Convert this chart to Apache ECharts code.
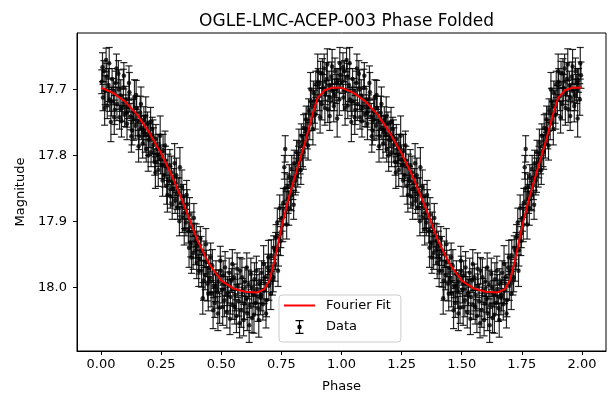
<!DOCTYPE html>
<html><head><meta charset="utf-8">
<script src="https://cdn.jsdelivr.net/npm/echarts@6/dist/echarts.min.js"></script>
<style>html,body{margin:0;padding:0;background:#fff}#c{width:616px;height:394px}</style>
</head><body><div id="c"></div>
<script>
// Observations, one pulsation cycle (plotted at phase and phase + 1)
const phase = [
0.003,0.008,0.012,0.017,0.021,0.026,0.031,0.036,0.041,0.046,
0.052,0.057,0.061,0.066,0.072,0.077,0.082,0.088,0.093,0.098,
0.103,0.108,0.113,0.118,0.124,0.129,0.134,0.139,0.144,0.148,
0.153,0.158,0.163,0.168,0.173,0.178,0.183,0.188,0.193,0.198,
0.203,0.208,0.213,0.218,0.223,0.228,0.233,0.238,0.243,0.248,
0.253,0.258,0.263,0.268,0.273,0.278,0.283,0.288,0.293,0.298,
0.303,0.308,0.313,0.318,0.323,0.328,0.333,0.338,0.343,0.348,
0.353,0.358,0.363,0.368,0.373,0.378,0.383,0.388,0.393,0.398,
0.403,0.408,0.413,0.418,0.423,0.428,0.433,0.438,0.443,0.448,
0.453,0.458,0.463,0.468,0.473,0.478,0.483,0.488,0.493,0.498,
0.503,0.508,0.513,0.518,0.523,0.528,0.533,0.538,0.543,0.548,
0.553,0.558,0.563,0.568,0.573,0.578,0.583,0.588,0.593,0.598,
0.603,0.608,0.613,0.618,0.623,0.628,0.633,0.638,0.643,0.648,
0.653,0.658,0.663,0.668,0.673,0.678,0.683,0.688,0.693,0.698,
0.703,0.708,0.713,0.718,0.723,0.728,0.733,0.738,0.743,0.748,
0.753,0.758,0.762,0.766,0.770,0.774,0.778,0.783,0.788,0.793,0.798,
0.803,0.808,0.813,0.818,0.823,0.828,0.833,0.838,0.843,0.848,
0.853,0.858,0.863,0.868,0.873,0.878,0.883,0.888,0.893,0.898,
0.903,0.908,0.913,0.918,0.923,0.928,0.933,0.938,0.943,0.948,
0.953,0.958,0.963,0.968,0.973,0.978,0.982,0.986,0.991,0.996,
0.006,0.015,0.024,0.034,0.044,0.055,0.064,0.075,0.085,0.095,
0.106,0.116,0.126,0.136,0.146,0.156,0.166,0.176,0.186,0.196,
0.206,0.216,0.226,0.236,0.246,0.256,0.266,0.276,0.286,0.296,
0.306,0.316,0.326,0.336,0.346,0.356,0.366,0.376,0.386,0.396,
0.406,0.416,0.426,0.436,0.446,0.456,0.466,0.476,0.486,0.496,
0.506,0.516,0.526,0.536,0.546,0.556,0.566,0.576,0.586,0.596,
0.606,0.616,0.626,0.636,0.646,0.656,0.666,0.676,0.686,0.696,
0.706,0.716,0.726,0.736,0.746,0.756,0.764,0.772,0.781,0.791,
0.801,0.811,0.821,0.831,0.841,0.851,0.861,0.871,0.881,0.891,
0.901,0.911,0.921,0.931,0.941,0.951,0.961,0.971,0.981,0.993
];
const mag = [
17.688,17.712,17.672,17.701,17.655,17.724,17.693,17.715,17.749,17.684,
17.703,17.731,17.690,17.722,17.676,17.742,17.709,17.728,17.697,17.738,
17.715,17.752,17.726,17.704,17.741,17.762,17.733,17.711,17.755,17.728,
17.748,17.771,17.735,17.758,17.782,17.746,17.767,17.790,17.752,17.776,
17.768,17.795,17.760,17.784,17.810,17.775,17.799,17.822,17.788,17.806,
17.815,17.792,17.830,17.808,17.846,17.818,17.839,17.862,17.826,17.851,
17.842,17.868,17.830,17.879,17.856,17.818,17.872,17.895,17.862,17.887,
17.902,17.874,17.915,17.890,17.934,17.908,17.948,17.921,17.944,17.963,
17.935,17.958,17.926,17.975,18.017,17.950,17.982,17.962,17.995,17.971,
17.986,18.010,17.968,17.998,18.024,17.980,18.006,17.992,18.031,17.975,
18.004,17.982,18.020,17.995,18.038,18.008,17.978,18.015,17.990,18.027,
17.985,18.012,18.044,17.998,18.022,17.975,18.035,18.005,18.050,17.992,
18.018,18.040,17.996,18.028,17.980,18.047,18.010,17.988,18.024,18.003,
18.032,17.994,18.016,17.978,18.026,18.005,17.985,18.020,17.970,17.998,
17.975,17.952,17.990,17.940,17.965,17.925,17.902,17.944,17.880,17.918,
17.895,17.872,17.818,17.790,17.880,17.848,17.866,17.832,17.858,17.820,17.845,
17.812,17.838,17.795,17.822,17.780,17.806,17.770,17.793,17.758,17.782,
17.745,17.768,17.732,17.752,17.718,17.740,17.705,17.726,17.692,17.716,
17.688,17.710,17.675,17.722,17.697,17.668,17.705,17.684,17.730,17.694,
17.712,17.680,17.702,17.725,17.672,17.699,17.744,17.686,17.715,17.678,
17.666,17.728,17.680,17.660,17.718,17.742,17.668,17.700,17.748,17.679,
17.735,17.690,17.771,17.745,17.708,17.786,17.722,17.762,17.741,17.800,
17.749,17.772,17.826,17.790,17.770,17.838,17.785,17.860,17.815,17.875,
17.812,17.858,17.900,17.848,17.912,17.860,17.940,17.955,17.895,17.930,
17.975,17.945,17.990,17.935,18.010,17.955,18.035,17.998,18.040,17.960,
18.030,17.970,18.010,18.048,17.965,18.030,17.972,18.055,17.985,18.025,
17.970,18.058,18.000,18.042,17.975,18.050,18.012,17.965,18.040,17.955,
18.010,17.985,17.945,17.975,17.930,17.905,17.850,17.905,17.880,17.860,
17.875,17.830,17.810,17.822,17.795,17.760,17.785,17.700,17.760,17.738,
17.672,17.742,17.675,17.728,17.662,17.740,17.665,17.708,17.690,17.660
];
const err = [
0.018,0.020,0.016,0.022,0.018,0.020,0.025,0.018,0.030,0.016,
0.020,0.022,0.018,0.025,0.020,0.018,0.024,0.020,0.028,0.018,
0.020,0.024,0.018,0.030,0.020,0.022,0.018,0.026,0.020,0.018,
0.022,0.020,0.025,0.018,0.022,0.020,0.028,0.020,0.018,0.024,
0.020,0.022,0.018,0.026,0.020,0.022,0.018,0.025,0.020,0.022,
0.020,0.024,0.018,0.022,0.028,0.020,0.022,0.018,0.025,0.020,
0.022,0.020,0.026,0.018,0.022,0.030,0.020,0.022,0.018,0.024,
0.020,0.022,0.018,0.026,0.020,0.022,0.025,0.018,0.022,0.024,
0.020,0.022,0.018,0.025,0.024,0.020,0.022,0.018,0.026,0.020,
0.022,0.020,0.025,0.018,0.022,0.020,0.026,0.018,0.024,0.022,
0.020,0.022,0.025,0.018,0.024,0.020,0.022,0.026,0.018,0.022,
0.020,0.024,0.025,0.018,0.022,0.020,0.026,0.018,0.024,0.022,
0.020,0.026,0.022,0.018,0.024,0.022,0.020,0.025,0.018,0.022,
0.020,0.022,0.026,0.018,0.024,0.020,0.022,0.025,0.020,0.022,
0.020,0.024,0.022,0.018,0.026,0.020,0.022,0.024,0.020,0.022,
0.020,0.022,0.018,0.020,0.025,0.020,0.022,0.018,0.024,0.020,0.022,
0.020,0.022,0.018,0.026,0.020,0.022,0.018,0.024,0.020,0.022,
0.020,0.022,0.018,0.024,0.020,0.022,0.018,0.025,0.020,0.022,
0.020,0.022,0.018,0.024,0.020,0.022,0.018,0.025,0.020,0.022,
0.020,0.022,0.018,0.024,0.020,0.022,0.028,0.018,0.024,0.020,
0.022,0.026,0.020,0.024,0.022,0.026,0.022,0.030,0.024,0.020,
0.022,0.026,0.024,0.032,0.022,0.024,0.026,0.022,0.030,0.024,
0.022,0.026,0.024,0.022,0.030,0.024,0.022,0.026,0.024,0.022,
0.030,0.024,0.022,0.026,0.024,0.022,0.030,0.024,0.022,0.026,
0.024,0.022,0.030,0.024,0.026,0.022,0.028,0.024,0.026,0.022,
0.028,0.024,0.026,0.024,0.022,0.026,0.024,0.022,0.028,0.024,
0.022,0.026,0.024,0.028,0.022,0.026,0.024,0.028,0.022,0.026,
0.024,0.022,0.028,0.024,0.022,0.026,0.024,0.022,0.026,0.024,
0.022,0.026,0.024,0.022,0.026,0.024,0.022,0.026,0.024,0.022,
0.026,0.024,0.022,0.026,0.024,0.022,0.026,0.024,0.022,0.024
];
// Fourier fit, one cycle
const fitPhase = [0.00,0.05,0.10,0.15,0.20,0.25,0.30,0.35,0.40,0.45,0.50,0.55,0.60,0.65,0.68,0.70,0.72,0.75,0.78,0.80,0.85,0.88,0.90,0.93,0.96,1.00];
const fitMag   = [17.697,17.705,17.718,17.738,17.765,17.797,17.835,17.880,17.928,17.965,17.990,18.002,18.007,18.008,18.003,17.990,17.962,17.910,17.865,17.840,17.778,17.737,17.713,17.701,17.697,17.697];
const xTicks = [0,0.25,0.5,0.75,1.0,1.25,1.5,1.75,2.0];
const yTicks = [17.7,17.8,17.9,18.0];
const cycles = [0,1];

const pts = [];
cycles.forEach(c => phase.forEach((p,i) => pts.push([p + c, mag[i], err[i]])));
const fitData = [];
cycles.forEach(c => fitPhase.forEach((p,i) => { if (c > 0 && i === 0) return; fitData.push([p + c, fitMag[i]]); }));

const FONT = 'DejaVu Sans';
const chart = echarts.init(document.getElementById('c'), null, {renderer:'canvas'});
const errIcon = 'path://M0,0H8V1.2H0Z M3.4,0H4.6V14H3.4Z M0,12.8H8V14H0Z M1.8,7A2.2,2.2 0 1 1 6.2,7A2.2,2.2 0 1 1 1.8,7Z';
const lineIcon = 'path://M0,0H31V2H0Z';
chart.setOption({
  animation:false,
  backgroundColor:'#fff',
  title:{text:'OGLE-LMC-ACEP-003 Phase Folded', left:341.6, textAlign:'center', top:8,
    textStyle:{fontFamily:FONT, fontSize:17, fontWeight:'normal', color:'#000'}},
  grid:{left:77, right:10, top:33, bottom:43, show:true, borderColor:'#000', borderWidth:1,
    backgroundColor:'transparent', containLabel:false, outerBoundsMode:'none'},
  legend:{
    orient:'vertical', left:279, top:295,
    data:[{name:'Fourier Fit', icon:lineIcon},{name:'Data', icon:errIcon}],
    itemWidth:31, itemHeight:14, itemGap:8,
    padding:[4,10,8,5],
    backgroundColor:'rgba(255,255,255,0.9)', borderColor:'#cccccc', borderWidth:1, borderRadius:3,
    textStyle:{fontFamily:FONT, fontSize:13, color:'#000', padding:[0,0,0,6]}
  },
  xAxis:{type:'value', min:-0.1, max:2.1,
    name:'Phase', nameLocation:'middle', nameGap:29,
    nameTextStyle:{fontFamily:FONT, fontSize:13, color:'#000'},
    axisLine:{show:true, onZero:false, lineStyle:{color:'#000', width:1}},
    axisTick:{show:true, length:4, lineStyle:{color:'#000'}, customValues:xTicks},
    axisLabel:{fontFamily:FONT, fontSize:13, color:'#000', margin:7, customValues:xTicks,
      formatter:v => v.toFixed(2)},
    splitLine:{show:false}},
  yAxis:{type:'value', inverse:true, min:17.614, max:18.097,
    name:'Magnitude', nameLocation:'middle', nameGap:50, nameRotate:90,
    nameTextStyle:{fontFamily:FONT, fontSize:13, color:'#000'},
    axisLine:{show:true, onZero:false, lineStyle:{color:'#000', width:1}},
    axisTick:{show:true, length:4, lineStyle:{color:'#000'}, customValues:yTicks},
    axisLabel:{fontFamily:FONT, fontSize:13, color:'#000', margin:10, customValues:yTicks,
      formatter:v => v.toFixed(1)},
    splitLine:{show:false}},
  series:[
    {type:'custom', name:'Data', data:pts, encode:{x:0, y:1}, z:2, silent:true,
      itemStyle:{color:'#000'},
      renderItem:function(params, api){
        const x = api.value(0), y = api.value(1), e = api.value(2);
        const a = api.coord([x, y - e]), b = api.coord([x, y + e]);
        const cw = 3.5;
        const st = {stroke:'rgba(0,0,0,0.85)', lineWidth:1.2};
        return {type:'group', children:[
          {type:'line', shape:{x1:a[0], y1:a[1], x2:b[0], y2:b[1]}, style:st},
          {type:'line', shape:{x1:a[0]-cw, y1:a[1], x2:a[0]+cw, y2:a[1]}, style:st},
          {type:'line', shape:{x1:b[0]-cw, y1:b[1], x2:b[0]+cw, y2:b[1]}, style:st}
        ]};
      }},
    {type:'scatter', name:'Data', data:pts.map(p => [p[0], p[1]]), symbol:'circle', symbolSize:4.5,
      itemStyle:{color:'#000'}, z:3, silent:true},
    {type:'line', name:'Fourier Fit', data:fitData, showSymbol:false, symbol:'none', smooth:false,
      lineStyle:{color:'#ff0000', width:2}, itemStyle:{color:'#ff0000'}, z:4, silent:true}
  ]
});
</script></body></html>
